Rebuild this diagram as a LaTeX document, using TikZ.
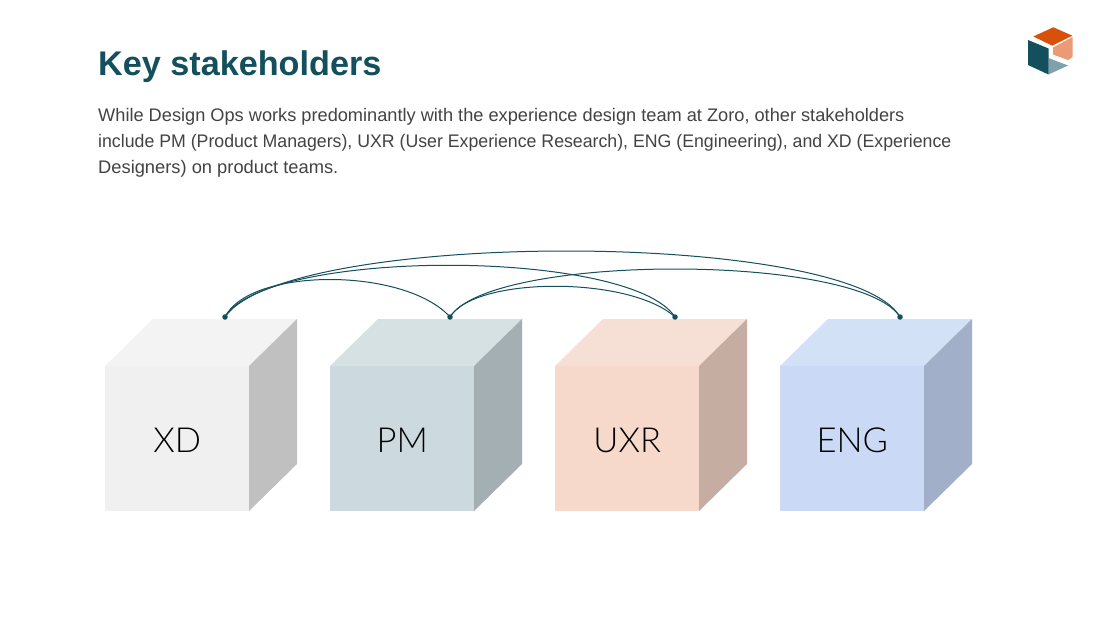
\documentclass[tikz,border=0pt]{standalone}
\usepackage{fontspec}
\setmainfont{Liberation Sans}
\newfontfamily\lightfont{Lato Light}
\definecolor{teal}{HTML}{134F5C}
\definecolor{bodyc}{HTML}{434343}
\definecolor{logoa}{HTML}{D9500A}
\definecolor{logob}{HTML}{EA9A74}
\definecolor{logoc}{HTML}{7FA0AD}
\definecolor{xdf}{HTML}{F0F0F0}\definecolor{xdt}{HTML}{F3F3F3}\definecolor{xds}{HTML}{C0C0C0}
\definecolor{pmf}{HTML}{CCD9DE}\definecolor{pmt}{HTML}{D6E1E4}\definecolor{pms}{HTML}{A3AFB3}
\definecolor{uxf}{HTML}{F6D9CB}\definecolor{uxt}{HTML}{F6E0D6}\definecolor{uxs}{HTML}{C5ADA2}
\definecolor{enf}{HTML}{C9D9F6}\definecolor{ent}{HTML}{D3E1F7}\definecolor{ens}{HTML}{A1AFC8}
\tikzset{
 x=1pt,y=-1pt,
 title/.style={anchor=base west,inner sep=0pt,text=teal,font=\fontsize{34.2}{36}\selectfont\bfseries},
 bodyline/.style={anchor=base west,inner sep=0pt,text=bodyc,font=\fontsize{18.2}{20}\selectfont},
 front/.style={anchor=north west,inner sep=0pt,minimum width=144pt,minimum height=145pt,text=black,text height=27.6pt,text depth=0pt,font=\fontsize{34.5}{40}\selectfont\lightfont},
 dot/.style={circle,fill=teal,inner sep=0pt,minimum size=5.5pt},
 link/.style={draw=teal,line width=1pt},
}
\newcommand{\cubeat}[6]{%
 \fill[#4] (#1,366) -- ++(48,-47) -- ++(144,0) -- ++(-48,47) -- cycle;
 \fill[#5] (#1+144,366) -- ++(48,-47) -- ++(0,145) -- ++(-48,47) -- cycle;
 \node[front,fill=#3] (#2) at (#1,366) {#6};
}
\begin{document}
\begin{tikzpicture}
\useasboundingbox (0,0) rectangle (1100,618);
\fill[white] (0,0) rectangle (1100,618);
\node[title] (t) at (98,75) {Key stakeholders};
\node[bodyline] (l1) at (98,121) {While Design Ops works predominantly with the experience design team at Zoro, other stakeholders};
\node[bodyline] (l2) at (98,147) {\scalebox{0.974}[1]{include PM (Product Managers), UXR (User Experience Research), ENG (Engineering), and XD (Experience}};
\node[bodyline] (l3) at (98,173) {\scalebox{1.006}[1]{Designers) on product teams.}};
% logo
\fill[logoa] (1033.3,36.5) -- (1053.3,27.3) -- (1072.3,35.7) -- (1052.3,45.7) -- cycle;
\fill[logob] (1053,47.5) -- (1072.5,37) -- (1072.5,57) -- (1068,60) -- (1053,54.5) -- cycle;
\fill[logoc] (1048.5,58) -- (1068,65.5) -- (1048.5,74.5) -- cycle;
\fill[teal] (1028,40) -- (1048.5,48.5) -- (1048.5,74.5) -- (1028,65) -- cycle;
% cubes
\cubeat{105}{xd}{xdf}{xdt}{xds}{XD}
\cubeat{330}{pm}{pmf}{pmt}{pms}{PM}
\cubeat{555}{uxr}{uxf}{uxt}{uxs}{UXR}
\cubeat{780}{eng}{enf}{ent}{ens}{ENG}
% dots
\node[dot] (d1) at (225,317) {};
\node[dot] (d2) at (450,317) {};
\node[dot] (d3) at (675,317) {};
\node[dot] (d4) at (900,317) {};
% links
\path[link] (d1.center) .. controls +(25,-50) and +(-45,-50) .. (d2.center);
\path[link] (d1.center) .. controls +(40,-69) and +(-45,-69) .. (d3.center);
\path[link] (d1.center) .. controls +(60,-88) and +(-50,-88) .. (d4.center);
\path[link] (d2.center) .. controls +(25,-41) and +(-45,-41) .. (d3.center);
\path[link] (d2.center) .. controls +(40,-64) and +(-40,-64) .. (d4.center);
\end{tikzpicture}
\end{document}
